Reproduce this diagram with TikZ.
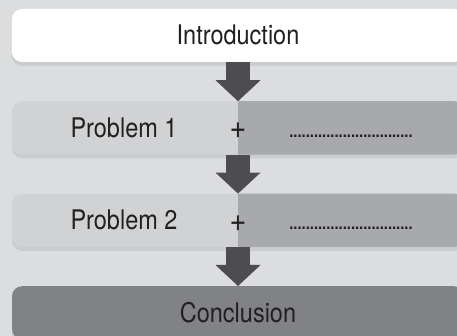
\documentclass[tikz,border=0pt]{standalone}
\usepackage{fontspec}
\setmainfont[FakeStretch=0.87]{TeX Gyre Heros}
\usetikzlibrary{positioning, shadows, arrows.meta}
\definecolor{bgc}{HTML}{DCDDDF}
\definecolor{lightc}{HTML}{D1D2D4}
\definecolor{midc}{HTML}{A7A9AC}
\definecolor{darkc}{HTML}{808285}
\definecolor{arrowc}{HTML}{4D4D4F}
\definecolor{txtc}{HTML}{231F20}
\tikzstyle{block} = [rectangle, rounded corners=10pt, minimum width=452pt, minimum height=53pt, inner sep=0pt, text=txtc, font=\fontsize{27}{27}\selectfont, text height=19pt, text depth=0pt, drop shadow={shadow xshift=0pt, shadow yshift=-4pt, opacity=0.18}]
\tikzstyle{introbox} = [block, fill=white]
\tikzstyle{probbox} = [block, fill=lightc]
\tikzstyle{conclbox} = [block, fill=darkc]
\tikzstyle{txtlbl} = [inner sep=0pt, text=txtc, font=\fontsize{27}{27}\selectfont, text height=19pt, text depth=0pt]
\tikzstyle{pluslbl} = [txtlbl, font=\fontsize{33}{33}\selectfont, text height=22pt]
\tikzstyle{dotlbl} = [txtlbl, font=\fontsize{17}{17}\selectfont\bfseries]
\tikzstyle{bigarrow} = [draw=arrowc, line width=24pt, -{Triangle[length=21pt, width=45pt, line width=0pt]}]

\begin{document}
\begin{tikzpicture}[node distance=39pt]
\useasboundingbox (0,0) rectangle (457pt,-336pt);
\fill[bgc] (0,0) rectangle (457pt,-336pt);

\node (intro) [introbox] at (238pt,-35.5pt) {Introduction};
\node (p1) [probbox, below=of intro] {};
\node (p2) [probbox, below=of p1] {};
\node (concl) [conclbox, below=of p2] {Conclusion};

% darker right half of the problem boxes
\foreach \p in {p1,p2}{
  \begin{scope}
    \clip (\p.north) rectangle ([xshift=5pt]\p.south east);
    \fill[midc, rounded corners=10pt] (\p.north west) rectangle (\p.south east);
  \end{scope}
}

\node (p1t) [txtlbl] at ([xshift=-114pt]p1.center) {Problem 1};
\node (p1p) [pluslbl] at (p1.center) {+};
\node (p1d) [dotlbl] at ([xshift=113pt]p1.center) {..............................};
\node (p2t) [txtlbl] at ([xshift=-114pt]p2.center) {Problem 2};
\node (p2p) [pluslbl] at (p2.center) {+};
\node (p2d) [dotlbl] at ([xshift=113pt]p2.center) {..............................};

\draw [bigarrow](intro) -- (p1);
\draw [bigarrow](p1) -- (p2);
\draw [bigarrow](p2) -- (concl);
\end{tikzpicture}
\end{document}
